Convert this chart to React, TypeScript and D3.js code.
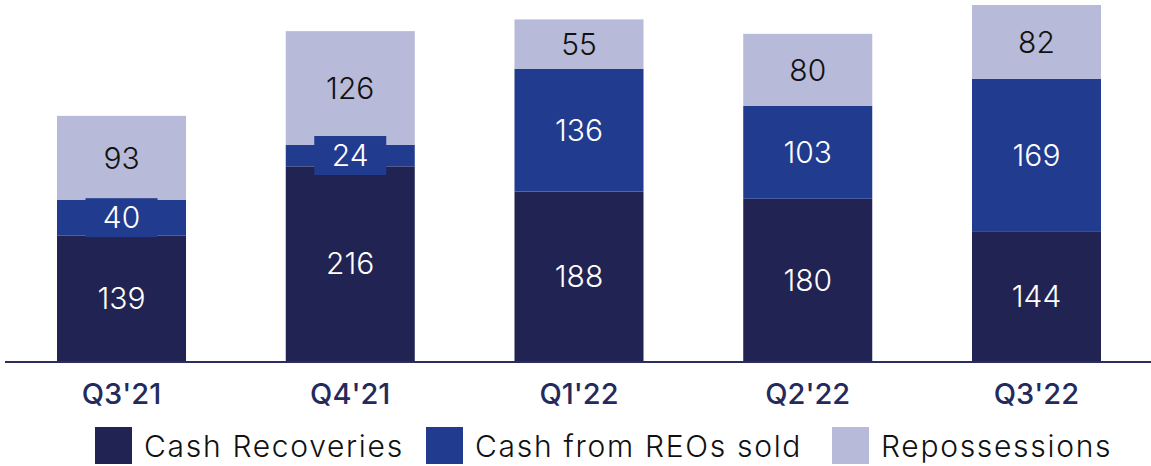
import React, { useEffect, useRef } from "react";
import * as d3 from "d3";

const quarters = ["Q3'21", "Q4'21", "Q1'22", "Q2'22", "Q3'22"];
const cashRecoveries = [139, 216, 188, 180, 144];
const cashFromREOs = [40, 24, 136, 103, 169];
const repossessions = [93, 126, 55, 80, 82];

const seriesNames = ["Cash Recoveries", "Cash from REOs sold", "Repossessions"];
const seriesColors = ["#212452", "#213b8e", "#b7bad8"];
const labelColors = ["#ffffff", "#ffffff", "#111111"];

const W = 1151;
const H = 466;
const FONT = "Inter, 'DejaVu Sans', sans-serif";

export default function App() {
  const ref = useRef<SVGSVGElement>(null);

  useEffect(() => {
    const svg = d3.select(ref.current);
    svg.selectAll("*").remove();

    const rows = quarters.map((q, i) => ({
      q,
      s0: cashRecoveries[i],
      s1: cashFromREOs[i],
      s2: repossessions[i],
    }));
    const stack = d3.stack<any>().keys(["s0", "s1", "s2"])(rows);

    const x = d3
      .scaleBand()
      .domain(quarters)
      .range([7, W])
      .paddingInner(0.436)
      .paddingOuter(0.2186);
    const total = d3.max(rows, (d) => d.s0 + d.s1 + d.s2) as number;
    const y = d3.scaleLinear().domain([0, total]).range([361, 5]);

    // bars
    stack.forEach((layer, k) => {
      svg
        .append("g")
        .selectAll("rect")
        .data(layer)
        .join("rect")
        .attr("x", (d: any) => x(d.data.q)!)
        .attr("width", x.bandwidth())
        .attr("y", (d) => y(d[1]))
        .attr("height", (d) => y(d[0]) - y(d[1]))
        .attr("fill", seriesColors[k]);
    });

    // value labels (small segments get a background box)
    stack.forEach((layer, k) => {
      const g = svg.append("g");
      layer.forEach((d: any) => {
        const cx = x(d.data.q)! + x.bandwidth() / 2;
        const cy = (y(d[0]) + y(d[1])) / 2;
        const h = y(d[0]) - y(d[1]);
        if (h < 38) {
          g.append("rect")
            .attr("x", cx - 36)
            .attr("y", cy - 19.5)
            .attr("width", 72)
            .attr("height", 39)
            .attr("fill", seriesColors[k]);
        }
        g.append("text")
          .attr("x", cx)
          .attr("y", cy)
          .attr("dy", "0.36em")
          .attr("text-anchor", "middle")
          .attr("font-family", FONT)
          .attr("font-size", 30)
          .attr("font-weight", 300)
          .attr("fill", labelColors[k])
          .text(d[1] - d[0]);
      });
    });

    // axis line
    svg
      .append("line")
      .attr("x1", 5)
      .attr("x2", W)
      .attr("y1", 362)
      .attr("y2", 362)
      .attr("stroke", "#2b2e5c")
      .attr("stroke-width", 2);

    // category labels
    svg
      .append("g")
      .selectAll("text")
      .data(quarters)
      .join("text")
      .attr("x", (d) => x(d)! + x.bandwidth() / 2)
      .attr("y", 394)
      .attr("dy", "0.36em")
      .attr("text-anchor", "middle")
      .attr("font-family", FONT)
      .attr("font-size", 29)
      .attr("font-weight", 500)
      .attr("fill", "#252a5c")
      .text((d) => d);

    // legend
    const legendX = [95, 426, 832];
    const legend = svg.append("g");
    seriesNames.forEach((name, k) => {
      legend
        .append("rect")
        .attr("x", legendX[k])
        .attr("y", 427)
        .attr("width", 37)
        .attr("height", 37)
        .attr("fill", seriesColors[k]);
      legend
        .append("text")
        .attr("x", legendX[k] + 49)
        .attr("y", 446)
        .attr("dy", "0.36em")
        .attr("font-family", FONT)
        .attr("font-size", 30)
        .attr("font-weight", 300)
        .attr("letter-spacing", 1.7)
        .attr("fill", "#111111")
        .text(name);
    });
  }, []);

  return (
    <svg
      ref={ref}
      width={W}
      height={H}
      style={{ position: "absolute", left: 0, top: 0, background: "#fff" }}
    />
  );
}
